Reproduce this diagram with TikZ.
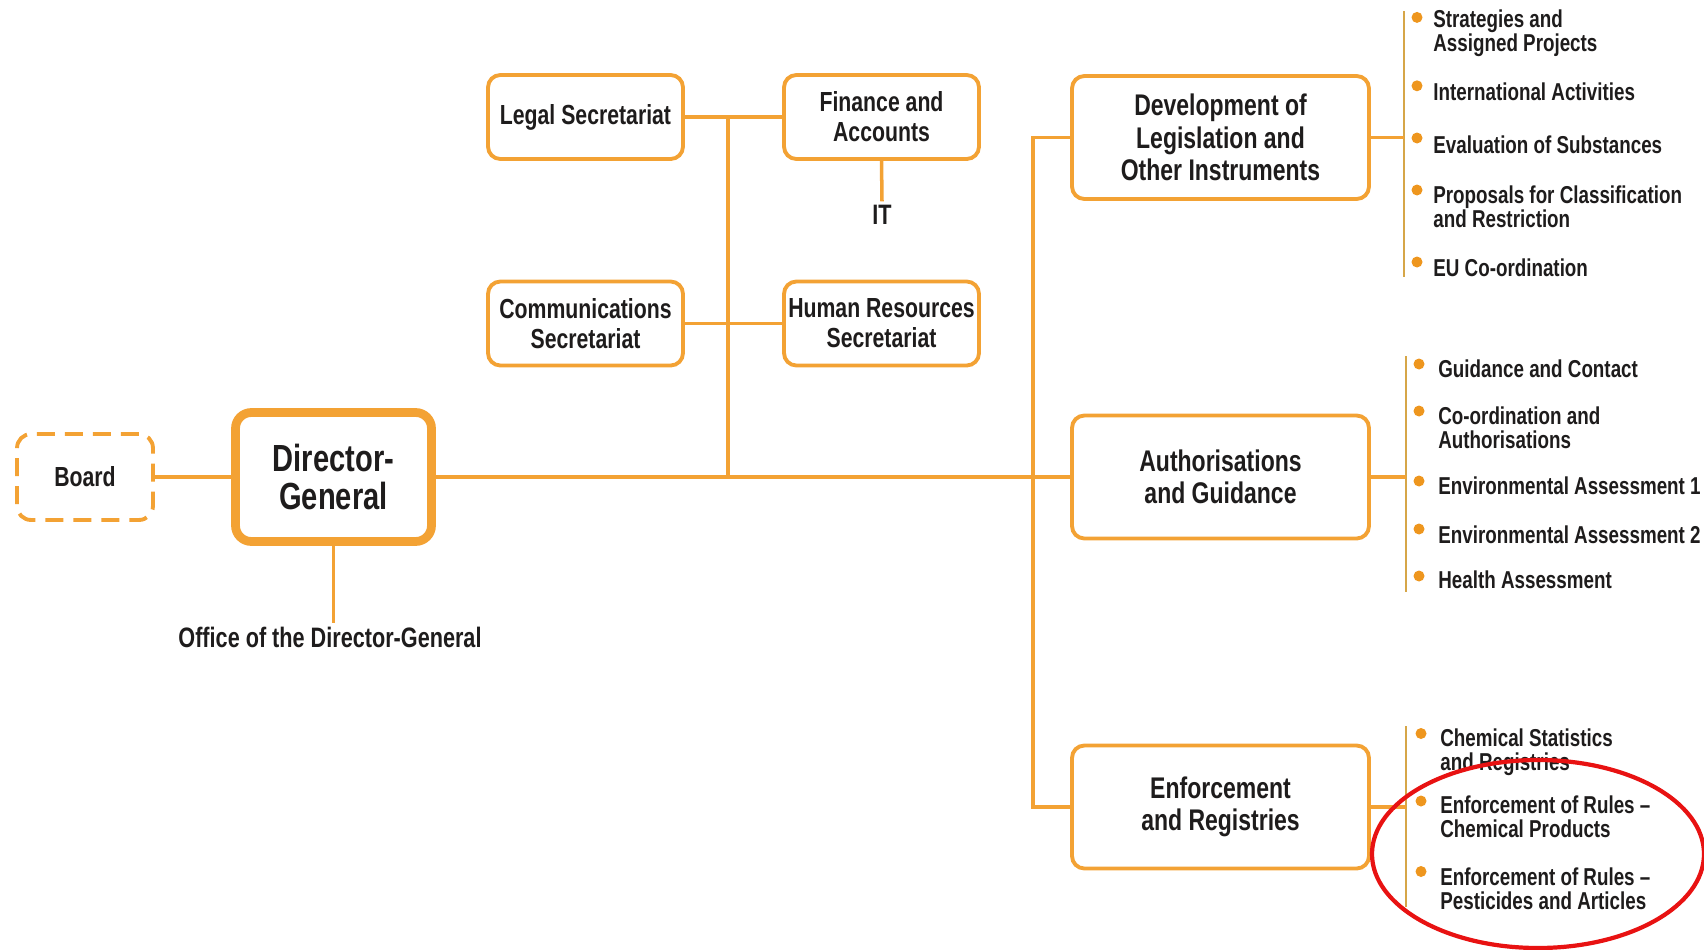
\documentclass[tikz,border=0pt]{standalone}
\usepackage{fontspec}
\setmainfont{Liberation Sans}[FakeStretch=0.77]
\usepackage{tikz}
\definecolor{echaorange}{RGB}{243,162,52}
\definecolor{dotorange}{RGB}{238,150,30}
\definecolor{bargold}{RGB}{214,166,72}
\definecolor{textdark}{RGB}{30,28,28}
\definecolor{markred}{RGB}{232,18,18}
\usetikzlibrary{positioning}

\tikzset{
    unitbox/.style={draw=echaorange, line width=2.2pt, rounded corners=7pt, fill=white,
        align=center, text=textdark, inner sep=2pt,
        font=\bfseries\fontsize{15.7}{17}\selectfont,
        minimum width=3.9cm, minimum height=1.68cm},
    deptbox/.style={unitbox, font=\bfseries\fontsize{17}{18.5}\selectfont,
        minimum width=5.94cm, minimum height=2.46cm},
    dgbox/.style={unitbox, line width=5pt, rounded corners=9pt,
        font=\bfseries\fontsize{21.5}{22}\selectfont,
        minimum width=3.92cm, minimum height=2.58cm},
    boardbox/.style={unitbox, dash pattern=on 0.36cm off 0.2cm, rounded corners=8pt,
        minimum width=2.72cm, minimum height=1.72cm},
    plain/.style={text=textdark, inner sep=2pt, font=\bfseries\fontsize{16}{17}\selectfont},
    item/.style={anchor=west, align=left, text=textdark, inner sep=0pt,
        font=\bfseries\fontsize{13.9}{13.8}\selectfont},
    link/.style={draw=echaorange, line width=2pt},
    bar/.style={draw=bargold, line width=1.4pt},
}

\begin{document}
\begin{tikzpicture}[x=0.02cm, y=-0.02cm]
    \useasboundingbox (0,0) rectangle (1704,950);

    % top management
    \node[boardbox] (board) at (85,477) {Board};
    \node[dgbox] (dg) at (333.5,477) {Director-\\General};
    \node[plain] (office) at (330,637) {Office of the Director-General};

    \node[unitbox] (legal) at (585.5,117) {Legal Secretariat};
    \node[unitbox] (finance) at (881.5,117) {Finance and\\Accounts};
    \node[plain] (it) at (882,215) {IT};
    \node[unitbox] (comm) at (585.5,323.5) {Communications\\Secretariat};
    \node[unitbox] (hr) at (881.5,323.5) {Human Resources\\Secretariat};

    % directorates
    \node[deptbox] (dev) at (1220.5,137.5) {Development of\\Legislation and\\Other Instruments};
    \node[deptbox] (auth) at (1220.5,477) {Authorisations\\and Guidance};
    \node[deptbox] (enf) at (1220.5,807) {Enforcement\\and Registries};

    \coordinate (lspinetop) at (728,117);
    \coordinate (lspinebot) at (728,477);
    \coordinate (rspinetop) at (1033,137.5);
    \coordinate (rspinebot) at (1033,807);

    \draw[link] (board.east) -- (dg.west);
    \draw[link] (dg.east) -- (auth.west);
    \draw[link] (dg.south) -- (dg.south |- office.north);
    \draw[link] (legal.east) -- (finance.west);
    \draw[link] (comm.east) -- (hr.west);
    \draw[link] (finance.south) -- (it.north);
    \draw[link] (lspinetop) -- (lspinebot);
    \draw[link] (dev.west) -- (rspinetop) -- (rspinebot) -- (enf.west);

    % units of development
    \coordinate (devbartop) at (1404,11);
    \coordinate (devbarbot) at (1404,277);
    \draw[bar] (devbartop) -- (devbarbot);
    \draw[link] (dev.east) -- (devbartop |- dev.east);
    \node[item] (dev1) at (1433,33) {Strategies and\\Assigned Projects};
    \node[item] (dev2) at (1433,91.3) {International Activities};
    \node[item] (dev3) at (1433,144.5) {Evaluation of Substances};
    \node[item] (dev4) at (1433,207) {Proposals for Classification\\and Restriction};
    \node[item] (dev5) at (1433,267.3) {EU Co-ordination};
    \fill[dotorange] (1417,17.4) circle (5.5);
    \fill[dotorange] (1417,85.8) circle (5.5);
    \fill[dotorange] (1417,138) circle (5.5);
    \fill[dotorange] (1417,190) circle (5.5);
    \fill[dotorange] (1417,262) circle (5.5);

    % units of authorisations
    \coordinate (authbartop) at (1406,356);
    \coordinate (authbarbot) at (1406,592);
    \draw[bar] (authbartop) -- (authbarbot);
    \draw[link] (auth.east) -- (authbartop |- auth.east);
    \node[item] (auth1) at (1438,368.4) {Guidance and Contact};
    \node[item] (auth2) at (1438,428) {Co-ordination and\\Authorisations};
    \node[item] (auth3) at (1438,486) {Environmental Assessment 1};
    \node[item] (auth4) at (1438,535) {Environmental Assessment 2};
    \node[item] (auth5) at (1438,580) {Health Assessment};
    \fill[dotorange] (1419,364) circle (5.5);
    \fill[dotorange] (1419,411) circle (5.5);
    \fill[dotorange] (1419,481) circle (5.5);
    \fill[dotorange] (1419,529) circle (5.5);
    \fill[dotorange] (1419,576) circle (5.5);

    % units of enforcement
    \coordinate (enfbartop) at (1406,726);
    \coordinate (enfbarbot) at (1406,907);
    \draw[bar] (enfbartop) -- (enfbarbot);
    \draw[link] (enf.east) -- (enfbartop |- enf.east);
    \node[item] (enf1) at (1440,752) {Chemical Statistics\\and Registries};
    \node[item] (enf2) at (1440,817) {Enforcement of Rules –\\Chemical Products};
    \node[item] (enf3) at (1440,889) {Enforcement of Rules –\\Pesticides and Articles};
    \fill[dotorange] (1421,733.5) circle (5.5);
    \fill[dotorange] (1421,801) circle (5.5);
    \fill[dotorange] (1421,871.5) circle (5.5);

    \draw[markred, line width=2.4pt] (1538,854) ellipse [x radius=166, y radius=94];
\end{tikzpicture}
\end{document}
